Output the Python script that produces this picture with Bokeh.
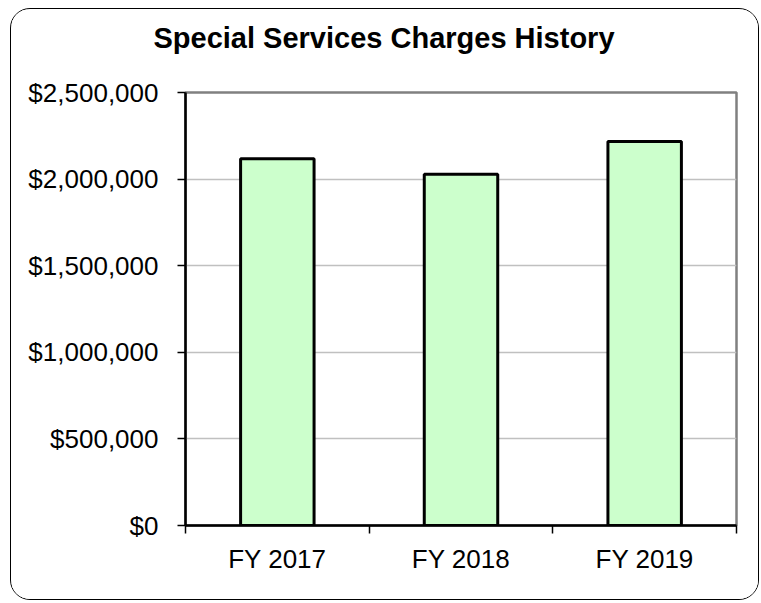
from bokeh.plotting import figure
from bokeh.models import FixedTicker, NumeralTickFormatter, Range1d, Title
from bokeh.embed import file_html
from bokeh.resources import INLINE

title_text = "Special Services Charges History"
years = ["FY 2017", "FY 2018", "FY 2019"]
charges = [2117000, 2028000, 2217000]
y_ticks = [0, 500000, 1000000, 1500000, 2000000, 2500000]

xs = [i + 0.5 for i in range(len(years))]

p = figure(width=747, height=590, output_backend="svg", toolbar_location=None,
           x_range=Range1d(0, len(years)), y_range=Range1d(0, 2500000),
           min_border_left=174, min_border_right=24, min_border_top=0, min_border_bottom=76)
p.styles = {"border": "1.5px solid #000", "border-radius": "20px",
            "box-sizing": "content-box", "margin-left": "10px", "margin-top": "8px",
            "overflow": "hidden"}

# spacer between title and plot area (nearest the frame)
p.add_layout(Title(text=" ", text_font_size="1px", standoff=25), "above")

p.title.text = title_text
p.title.text_font = "Liberation Sans"
p.title.text_font_style = "bold"
p.title.text_font_size = "29px"
p.title.text_color = "black"
p.title.align = "left"
p.title.offset = -32
p.title.standoff = 21

p.vbar(x=xs, top=charges, width=0.4, fill_color="#CCFFCC", line_color="black", line_width=3)

# x axis: labels at category centers, ticks at boundaries
p.xaxis.ticker = FixedTicker(ticks=xs, minor_ticks=list(range(len(years) + 1)))
p.xaxis.major_label_overrides = {x: y for x, y in zip(xs, years)}
p.xaxis.major_tick_out = 0
p.xaxis.major_tick_in = 0
p.xaxis.minor_tick_out = 8
p.xaxis.minor_tick_in = 0
p.xaxis.minor_tick_line_color = "black"
p.xaxis.minor_tick_line_width = 1.5
p.xaxis.axis_line_color = "black"
p.xaxis.axis_line_width = 2.5
p.xaxis.major_label_standoff = 10
p.xaxis.major_label_text_font_size = "26px"

p.yaxis.ticker = FixedTicker(ticks=y_ticks)
p.yaxis.formatter = NumeralTickFormatter(format="$0,0")
p.yaxis.major_tick_out = 8
p.yaxis.major_tick_in = 0
p.yaxis.major_tick_line_color = "black"
p.yaxis.major_tick_line_width = 1.5
p.yaxis.minor_tick_line_color = None
p.yaxis.axis_line_color = "black"
p.yaxis.axis_line_width = 2.5
p.yaxis.major_label_standoff = 19
p.yaxis.major_label_text_font_size = "26px"

for ax in (p.xaxis[0], p.yaxis[0]):
    ax.major_label_text_font = "Liberation Sans"
    ax.major_label_text_color = "black"

p.xgrid.grid_line_color = None
p.ygrid.grid_line_color = "#C0C0C0"
p.ygrid.grid_line_width = 1.5
p.outline_line_color = "#808080"
p.outline_line_width = 2.5
p.background_fill_color = "white"
p.border_fill_color = "white"

open("out.html", "w").write(file_html(p, INLINE))
